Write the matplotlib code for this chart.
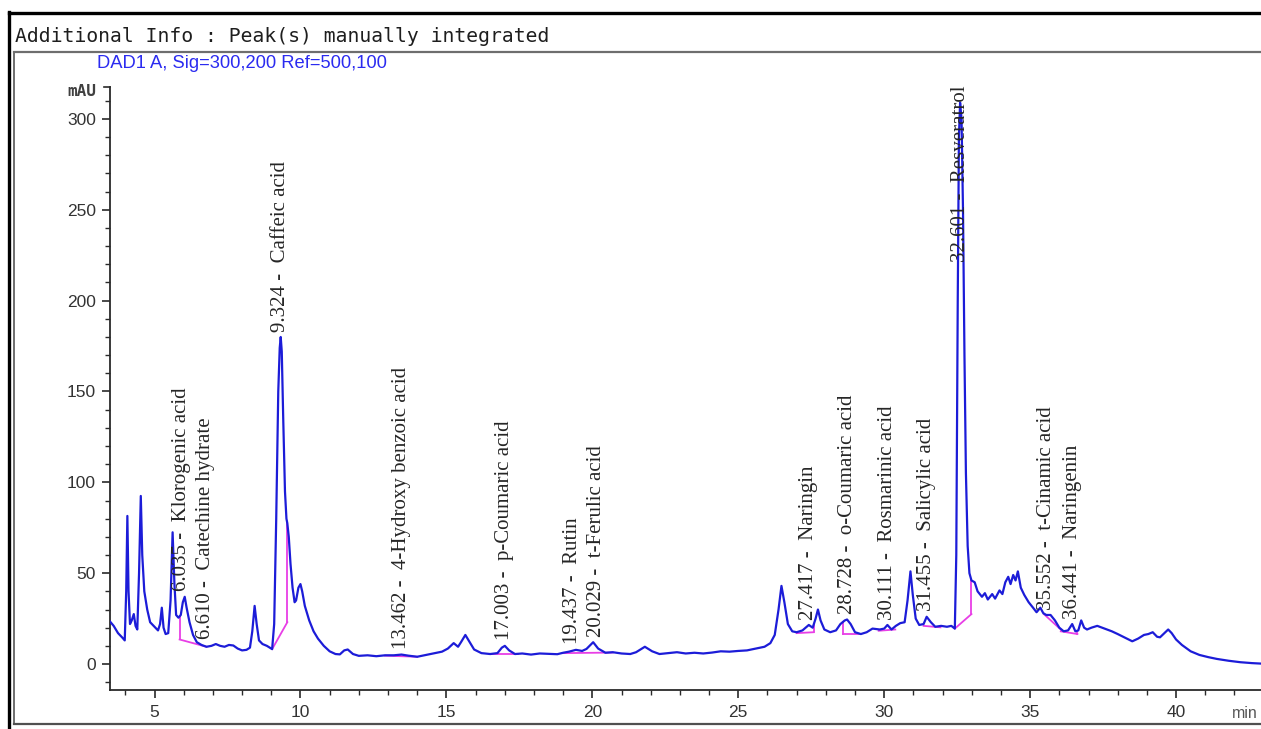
import numpy as np
import matplotlib
matplotlib.use("Agg")
import matplotlib.pyplot as plt
from matplotlib.lines import Line2D
from matplotlib.ticker import MultipleLocator

# ---- chromatogram trace (retention time in min, absorbance in mAU) ----
rt_min = [
    3.47, 3.60, 3.75, 3.90, 3.98, 4.03, 4.07, 4.11, 4.16, 4.22, 4.29, 4.35, 4.41, 4.47,
    4.53, 4.58, 4.65, 4.75, 4.85, 5.00, 5.12, 5.19, 5.25, 5.31, 5.38, 5.47, 5.55, 5.62,
    5.68, 5.74, 5.82, 5.90, 5.97, 6.035, 6.10, 6.20, 6.32, 6.45, 6.61, 6.78, 6.95, 7.10,
    7.25, 7.40, 7.55, 7.70, 7.85, 8.00, 8.15, 8.27, 8.35, 8.43, 8.50, 8.58, 8.70, 8.85,
    9.03, 9.10, 9.17, 9.24, 9.29, 9.324, 9.36, 9.41, 9.47, 9.52, 9.55, 9.60, 9.66, 9.73,
    9.80, 9.85, 9.93, 10.00, 10.06, 10.15, 10.30, 10.45, 10.60, 10.80, 11.00, 11.20,
    11.35, 11.50, 11.62, 11.80, 12.00, 12.30, 12.60, 12.90, 13.20, 13.462, 13.70, 14.00,
    14.30, 14.60, 14.85, 15.05, 15.25, 15.40, 15.50, 15.65, 15.80, 15.95, 16.20, 16.50,
    16.75, 16.90, 17.003, 17.15, 17.35, 17.60, 17.90, 18.20, 18.50, 18.80, 19.00, 19.20,
    19.437, 19.65, 19.80, 20.029, 20.20, 20.45, 20.70, 21.00, 21.30, 21.50, 21.80, 22.05,
    22.30, 22.60, 22.90, 23.20, 23.50, 23.80, 24.10, 24.40, 24.70, 25.00, 25.30, 25.60,
    25.90, 26.10, 26.25, 26.38, 26.48, 26.58, 26.70, 26.85, 27.00, 27.20, 27.417, 27.55,
    27.65, 27.73, 27.82, 27.95, 28.15, 28.35, 28.50, 28.65, 28.728, 28.85, 29.00, 29.20,
    29.40, 29.60, 29.85, 30.00, 30.111, 30.25, 30.40, 30.55, 30.70, 30.80, 30.90, 30.98,
    31.08, 31.20, 31.35, 31.455, 31.60, 31.75, 31.95, 32.15, 32.30, 32.42, 32.47, 32.52,
    32.56, 32.601, 32.65, 32.70, 32.75, 32.80, 32.86, 32.92, 32.99, 33.10, 33.20, 33.35,
    33.45, 33.55, 33.70, 33.80, 33.95, 34.05, 34.15, 34.25, 34.33, 34.42, 34.50, 34.58,
    34.68, 34.80, 34.95, 35.10, 35.22, 35.35, 35.45, 35.552, 35.70, 35.85, 36.00, 36.15,
    36.30, 36.441, 36.55, 36.65, 36.75, 36.85, 36.95, 37.10, 37.30, 37.55, 37.80, 38.00,
    38.25, 38.50, 38.70, 38.90, 39.05, 39.20, 39.35, 39.45, 39.60, 39.73, 39.85, 40.00,
    40.20, 40.50, 40.80, 41.10, 41.40, 41.80, 42.20, 42.60, 42.95,
]
mau = [
    23.5, 21.0, 17.0, 14.5, 13.0, 40.0, 81.5, 40.0, 22.0, 24.0, 27.5, 21.0, 19.0, 50.0,
    92.5, 60.0, 40.0, 30.0, 23.0, 20.5, 18.5, 22.0, 31.0, 20.0, 16.5, 17.0, 35.0, 72.5,
    45.0, 27.0, 25.5, 27.0, 34.0, 37.0, 31.0, 23.0, 16.0, 12.0, 10.5, 9.5, 10.0, 11.0,
    10.0, 9.5, 10.5, 10.2, 8.5, 7.5, 7.8, 9.0, 18.0, 32.0, 22.0, 13.0, 11.0, 10.0,
    8.2, 22.0, 80.0, 150.0, 174.0, 180.0, 172.0, 135.0, 95.0, 80.0, 77.5, 70.0, 55.0, 42.0,
    34.0, 35.0, 42.0, 44.0, 40.0, 32.0, 24.0, 18.0, 14.0, 10.0, 7.0, 5.5,
    5.3, 7.5, 8.0, 5.5, 4.5, 4.8, 4.3, 4.8, 4.8, 5.2, 4.6, 4.0,
    5.0, 6.0, 6.8, 8.5, 11.5, 9.5, 12.0, 16.0, 12.0, 8.0, 6.0, 5.5,
    6.0, 9.0, 10.0, 7.5, 5.5, 5.8, 5.2, 5.8, 5.6, 5.4, 6.2, 6.8,
    7.8, 7.2, 8.3, 12.0, 8.5, 6.2, 6.5, 5.8, 5.5, 6.5, 9.5, 7.0,
    5.5, 6.0, 6.5, 5.8, 6.2, 5.8, 6.3, 7.0, 6.8, 7.2, 7.5, 8.5,
    9.5, 11.5, 16.0, 30.0, 43.0, 34.0, 22.0, 18.0, 17.5, 18.5, 21.5, 20.0,
    25.0, 30.0, 24.0, 19.0, 17.5, 18.5, 22.0, 24.0, 24.5, 22.0, 17.5, 16.5,
    17.5, 19.5, 19.0, 19.5, 21.5, 19.0, 21.0, 22.5, 23.0, 35.0, 51.0, 38.0,
    25.0, 21.5, 22.0, 26.0, 23.0, 20.5, 21.0, 20.5, 21.0, 19.5, 60.0, 200.0,
    290.0, 309.0, 300.0, 250.0, 170.0, 105.0, 65.0, 50.0, 46.0, 45.0, 40.0, 37.0,
    39.0, 35.5, 38.5, 36.0, 40.5, 38.5, 45.0, 48.0, 44.0, 49.0, 46.0, 51.0,
    42.0, 38.0, 34.0, 31.0, 28.5, 31.0, 28.0, 27.0, 27.0, 24.0, 20.0, 18.0,
    18.5, 22.0, 18.0, 18.5, 24.0, 20.0, 19.0, 20.0, 21.0, 19.5, 18.0, 16.5,
    14.5, 12.5, 14.0, 16.0, 16.5, 17.5, 15.0, 14.7, 17.0, 19.0, 17.0, 13.5,
    10.5, 7.0, 5.0, 3.8, 2.8, 1.8, 1.0, 0.5, 0.2,
]

# ---- integration baselines (start time, start mAU, end time, end mAU) ----
base_t0 = [5.86, 9.03, 12.90, 16.50, 19.00, 27.00, 28.59, 29.81, 31.35, 32.42, 35.47, 36.05]
base_y0 = [13.5, 8.2, 4.6, 5.5, 6.0, 17.0, 16.5, 18.3, 21.0, 19.5, 27.5, 18.0]
base_t1 = [6.78, 9.55, 14.00, 17.45, 20.70, 27.58, 29.18, 30.38, 31.93, 32.99, 36.05, 36.62]
base_y1 = [9.5, 23.0, 4.0, 5.5, 6.3, 17.5, 16.5, 19.0, 20.2, 27.5, 19.0, 16.5]
# drop lines from the baseline up to the signal
drop_t = [5.86, 9.55, 27.58, 28.59, 32.99, 36.62]
drop_base = [13.5, 23.0, 17.5, 16.5, 27.5, 16.5]

# ---- peak annotations ----
peak_rt = [6.035, 6.610, 9.324, 13.462, 17.003, 19.437, 20.029,
           27.417, 28.728, 30.111, 31.455, 32.601, 35.552, 36.441]
peak_rt_text = ["6.035", "6.610", "9.324", "13.462", "17.003", "19.437", "20.029",
                "27.417", "28.728", "30.111", "31.455", "32.601", "35.552", "36.441"]
peak_names = ["Klorogenic acid", "Catechine hydrate", "Caffeic acid",
              "4-Hydroxy benzoic acid", "p-Coumaric acid", "Rutin", "t-Ferulic acid",
              "Naringin", "o-Coumaric acid", "Rosmarinic acid", "Salicylic acid",
              "Resveratrol", "t-Cinamic acid", "Naringenin"]

W, H = 1261, 729
fig = plt.figure(figsize=(W / 100, H / 100), dpi=100)
fig.patch.set_facecolor("white")


def fx(x):
    return x / W


def fy(y):
    return 1 - y / H


# page frame
fig.add_artist(Line2D([fx(9), fx(W)], [fy(13), fy(13)], color="black", lw=2.4))
fig.add_artist(Line2D([fx(9), fx(9)], [fy(12), fy(H)], color="black", lw=2.4))
fig.add_artist(Line2D([fx(14), fx(W)], [fy(52), fy(52)], color="#6e6e6e", lw=1.6))
fig.add_artist(Line2D([fx(14), fx(14)], [fy(52), fy(724)], color="#6e6e6e", lw=1.4))
fig.add_artist(Line2D([fx(14), fx(W)], [fy(724), fy(724)], color="#505050", lw=1.6))

fig.text(fx(15), fy(37), "Additional Info : Peak(s) manually integrated",
         family=["DejaVu Sans Mono"], fontsize=14.2, color="#1e1e1e",
         ha="left", va="center")
fig.text(fx(97), fy(63), "DAD1 A, Sig=300,200 Ref=500,100",
         family=["Liberation Sans", "DejaVu Sans"], fontsize=13.2, color="#2b2bf0",
         ha="left", va="center")
fig.text(fx(96), fy(92), "mAU", family=["DejaVu Sans Mono"], fontsize=11.5,
         color="#404040", weight="bold", ha="right", va="center")
fig.text(fx(1232), fy(713), "min", family=["Liberation Sans", "DejaVu Sans"],
         fontsize=11.5, color="#555555", ha="left", va="center")

ax_left, ax_right, ax_top, ax_bottom = 110, W, 87, 690
ax = fig.add_axes([fx(ax_left), fy(ax_bottom), (ax_right - ax_left) / W,
                   (ax_bottom - ax_top) / H])
ax.set_xlim(3.475, 42.91)
ax.set_ylim(-14.3, 317.6)
ax.patch.set_alpha(0)
for s in ("top", "right"):
    ax.spines[s].set_visible(False)
for s in ("left", "bottom"):
    ax.spines[s].set_linewidth(1.3)
    ax.spines[s].set_color("#2a2a2a")

ax.xaxis.set_major_locator(MultipleLocator(5))
ax.xaxis.set_minor_locator(MultipleLocator(1))
ax.yaxis.set_major_locator(MultipleLocator(50))
ax.yaxis.set_minor_locator(MultipleLocator(10))
ax.tick_params(which="major", direction="out", length=6, width=1.2, color="#2a2a2a",
               labelsize=12.5, labelcolor="#333333", pad=4)
ax.tick_params(which="minor", direction="out", length=3.5, width=1.0, color="#2a2a2a")
ax.tick_params(axis="x", which="major", pad=5)
for lab in ax.get_xticklabels() + ax.get_yticklabels():
    lab.set_family(["Liberation Sans", "DejaVu Sans"])
# end cap at the top of the signal axis
fig.add_artist(Line2D([fx(104), fx(110)], [fy(87), fy(87)], color="#2a2a2a", lw=1.2))

t = np.array(rt_min)
y = np.array(mau)

# integration baselines and drop lines
magenta = "#e83ee6"
for a0, b0, a1, b1 in zip(base_t0, base_y0, base_t1, base_y1):
    ax.plot([a0, a1], [b0, b1], color=magenta, lw=1.3, zorder=2)
for dt, db in zip(drop_t, drop_base):
    ax.plot([dt, dt], [db, np.interp(dt, t, y)], color=magenta, lw=1.3, zorder=2)

ax.plot(t, y, color="#1c1cd8", lw=1.6, zorder=3, solid_joinstyle="round")

# peak labels: spread columns that would collide, place just above the apex
fig.canvas.draw()
to_px = ax.transData
px = [to_px.transform((r, 0))[0] for r in peak_rt]
gap = 24.0
for _ in range(20):
    for i in range(len(px) - 1):
        d = px[i + 1] - px[i]
        if d < gap:
            sh = (gap - d) / 2
            px[i] -= sh
            px[i + 1] += sh
inv = to_px.inverted()
label_x = [inv.transform((p, 0))[0] for p in px]

texts = []
for r, lx, rt_s, name in zip(peak_rt, label_x, peak_rt_text, peak_names):
    win = (t >= r - 0.1) & (t <= r + 0.1)
    apex = max(y[win].max() if win.any() else 0, np.interp(r, t, y))
    txt = ax.text(lx, apex + 3, f"{rt_s} -  {name}", rotation=90, ha="center",
                  va="bottom", family=["Liberation Serif", "DejaVu Serif"],
                  fontsize=15, color="#262626", zorder=4)
    texts.append(txt)

fig.canvas.draw()
ax_top_px = ax.get_window_extent().y1
for txt in texts:
    bb = txt.get_window_extent()
    if bb.y1 > ax_top_px:
        txt.set_va("top")
        txt.set_y(ax.get_ylim()[1] + 1)

fig.savefig("out.png", dpi=100, facecolor="white")
